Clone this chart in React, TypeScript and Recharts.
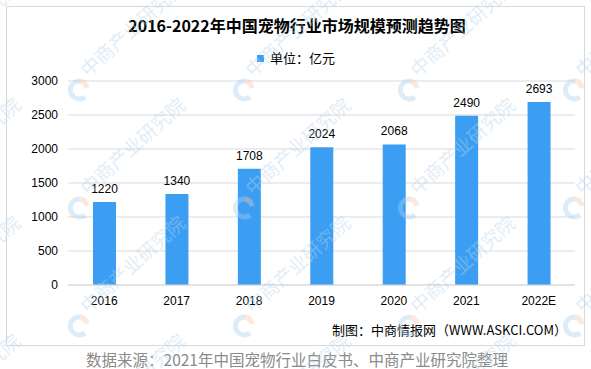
import { BarChart, Bar, XAxis, YAxis, CartesianGrid, LabelList } from 'recharts';

const years = ['2016', '2017', '2018', '2019', '2020', '2021', '2022E'];
const marketSize = [1220, 1340, 1708, 2024, 2068, 2490, 2693];
const yTicks = [0, 500, 1000, 1500, 2000, 2500, 3000];

const data = years.map((year, i) => ({ year, value: marketSize[i] }));

const markX = [-87, 78, 243, 408, 573];
const markY = [90, 208, 326, 444];

function Watermarks() {
  const marks = [];
  for (const x of markX) {
    for (const y of markY) {
      marks.push(
        <g key={`${x}-${y}`}>
          <path
            d={`M ${x + 7} ${y - 7} A 9 9 0 1 0 ${x + 7} ${y + 7}`}
            fill="none"
            stroke="#a9d0ee"
            strokeWidth={5}
          />
          <path
            d={`M ${x + 2} ${y - 9} A 9 9 0 0 1 ${x + 9} ${y - 2}`}
            fill="none"
            stroke="#f6c8b0"
            strokeWidth={5}
          />
          <text
            x={x + 10}
            y={y - 12}
            transform={`rotate(-42 ${x + 10} ${y - 12})`}
            fontSize={19}
            fill="#b4d4ee"
            fontFamily="Noto Sans CJK SC"
          >
            中商产业研究院
          </text>
        </g>
      );
    }
  }
  return (
    <svg
      width={591}
      height={369}
      style={{ position: 'absolute', left: 0, top: 0, opacity: 0.4, pointerEvents: 'none' }}
    >
      {marks}
    </svg>
  );
}

export default function App() {
  return (
    <div
      style={{
        position: 'absolute',
        left: 0,
        top: 0,
        width: 591,
        height: 369,
        background: '#fff',
        overflow: 'hidden',
        fontFamily: '"Noto Sans CJK SC", sans-serif',
      }}
    >
      <div
        style={{
          position: 'absolute',
          left: 6,
          top: 6,
          width: 577,
          height: 338,
          border: '1px solid #d9d9d9',
        }}
      />
      <div
        style={{
          position: 'absolute',
          left: 0,
          width: 594,
          top: 14,
          textAlign: 'center',
          fontSize: 16,
          fontWeight: 'bold',
          lineHeight: '22px',
          color: '#000',
        }}
      >
        2016-2022年中国宠物行业市场规模预测趋势图
      </div>
      <div
        style={{
          position: 'absolute',
          left: 257,
          top: 49,
          fontSize: 13,
          lineHeight: '18px',
          color: '#000',
          display: 'flex',
          alignItems: 'center',
        }}
      >
        <span style={{ display: 'inline-block', width: 7, height: 7, background: '#3c9ef2', marginRight: 6 }} />
        单位：亿元
      </div>
      <BarChart
        width={591}
        height={369}
        data={data}
        margin={{ top: 81, right: 16, left: 0, bottom: 54 }}
        style={{ position: 'absolute', left: 0, top: 0 }}
      >
        <CartesianGrid vertical={false} stroke="#d9d9d9" />
        <XAxis
          dataKey="year"
          height={30}
          axisLine={{ stroke: '#d9d9d9' }}
          tickLine={false}
          tickMargin={5}
          tick={{ fontSize: 12, fill: '#000', fontFamily: 'Liberation Sans' }}
          interval={0}
        />
        <YAxis
          width={68}
          domain={[0, 3000]}
          ticks={yTicks}
          axisLine={false}
          tickLine={false}
          tickMargin={4}
          tick={{ fontSize: 12, fill: '#000', fontFamily: 'Liberation Sans' }}
        />
        <Bar dataKey="value" fill="#3c9ef2" barSize={23} isAnimationActive={false}>
          <LabelList
            dataKey="value"
            position="top"
            offset={9}
            style={{ fontSize: 12, fill: '#000', fontFamily: 'Liberation Sans' }}
          />
        </Bar>
      </BarChart>
      <div
        style={{
          position: 'absolute',
          right: 24,
          top: 321,
          fontSize: 13,
          lineHeight: '18px',
          color: '#000',
        }}
      >
        制图：中商情报网（WWW.ASKCI.COM）
      </div>
      <div
        style={{
          position: 'absolute',
          left: 0,
          width: 594,
          top: 349,
          textAlign: 'center',
          fontSize: 15.5,
          lineHeight: '20px',
          color: '#8a8a8a',
        }}
      >
        数据来源：2021年中国宠物行业白皮书、中商产业研究院整理
      </div>
      <Watermarks />
    </div>
  );
}
